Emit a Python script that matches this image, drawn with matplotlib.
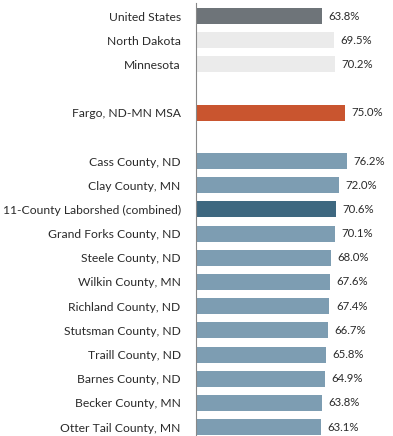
import matplotlib
matplotlib.use("Agg")
import matplotlib.pyplot as plt

categories = [
    "United States", "North Dakota", "Minnesota",
    "Fargo, ND-MN MSA",
    "Cass County, ND", "Clay County, MN", "11-County Laborshed (combined)",
    "Grand Forks County, ND", "Steele County, ND", "Wilkin County, MN",
    "Richland County, ND", "Stutsman County, ND", "Traill County, ND",
    "Barnes County, ND", "Becker County, MN", "Otter Tail County, MN",
]
values = [63.8, 69.5, 70.2, 75.0, 76.2, 72.0, 70.6, 70.1, 68.0, 67.6,
          67.4, 66.7, 65.8, 64.9, 63.8, 63.1]
# row slots, leaving blank rows between the groups
rows = [0, 1, 2, 4, 6, 7, 8, 9, 10, 11, 12, 13, 14, 15, 16, 17]
colors = ["#6e7479", "#ebebeb", "#ebebeb", "#c9552f",
          "#7d9db2", "#7d9db2", "#3e6880", "#7d9db2", "#7d9db2", "#7d9db2",
          "#7d9db2", "#7d9db2", "#7d9db2", "#7d9db2", "#7d9db2", "#7d9db2"]

plt.rcParams["font.family"] = ["Lato", "DejaVu Sans"]

W, H = 393, 436
fig = plt.figure(figsize=(W / 100, H / 100), dpi=100)
left = 196 / W
top = 3 / H
ax = fig.add_axes([left, 0, 1 - left, 1 - top])

ax.barh(rows, values, height=0.66, color=colors, zorder=2)
for r, v in zip(rows, values):
    ax.text(v + 3.3, r, f"{v:.1f}%", va="center", ha="left",
            fontsize=8.2, color="#2a2a2a")

ax.set_xlim(0, (W - 196) / 1.98)
ax.set_ylim(17.37, -0.54)
ax.set_yticks(rows)
ax.set_yticklabels(categories, fontsize=8.7, color="#2a2a2a")
ax.tick_params(axis="y", length=0, pad=11)
ax.set_xticks([])
for s in ["top", "right", "bottom"]:
    ax.spines[s].set_visible(False)
ax.spines["left"].set_color("#888888")
ax.spines["left"].set_linewidth(0.8)

fig.savefig("out.png", dpi=100)
